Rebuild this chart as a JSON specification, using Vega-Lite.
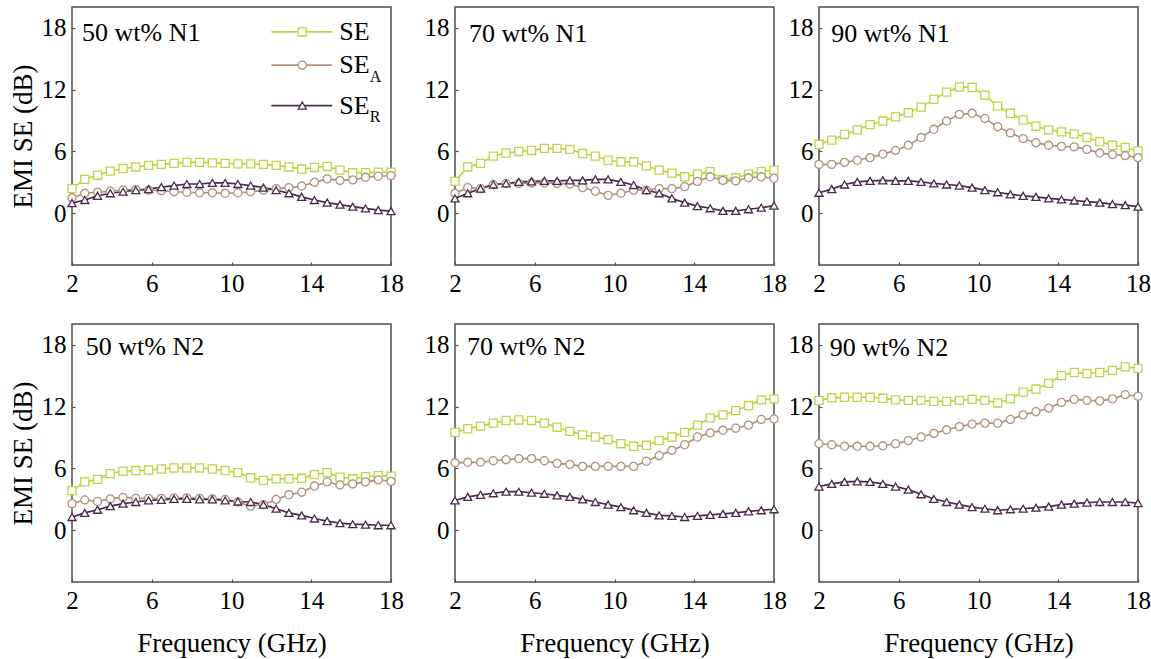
{
"$schema": "https://vega.github.io/schema/vega-lite/v6.json",
"padding": {"left": 8, "top": 6, "right": 2, "bottom": 2},
"config": {
  "view": {"stroke": "#4d4d4d", "strokeWidth": 1.5},
  "axis": {"labelFont": "Liberation Serif", "labelFontSize": 25, "labelColor": "black", "titleFont": "Liberation Serif", "titleFontSize": 27, "titleFontWeight": "normal", "titleColor": "black", "domain": false, "grid": false, "tickColor": "#4d4d4d", "tickWidth": 1.2, "tickSize": -3, "labelFlush": false, "labelOverlap": false, "labelPadding": 9}
},
"datasets": {
  "lab": [{"p":1,"t":"50 wt% N1","lx":2.5,"ly":17.45},{"p":2,"t":"70 wt% N1","lx":2.7,"ly":17.4},{"p":3,"t":"90 wt% N1","lx":2.62,"ly":17.4},{"p":4,"t":"50 wt% N2","lx":2.69,"ly":17.8},{"p":5,"t":"70 wt% N2","lx":2.6,"ly":17.75},{"p":6,"t":"90 wt% N2","lx":2.54,"ly":17.7}],
  "d": [
{"p":1,"f":2,"SE":2.4,"SE_A":1.5,"SE_R":1.0},{"p":1,"f":2.64,"SE":3.3,"SE_A":1.95,"SE_R":1.3},{"p":1,"f":3.28,"SE":3.7,"SE_A":2.05,"SE_R":1.7},{"p":1,"f":3.92,"SE":4.1,"SE_A":2.15,"SE_R":1.95},{"p":1,"f":4.56,"SE":4.35,"SE_A":2.25,"SE_R":2.1},{"p":1,"f":5.2,"SE":4.5,"SE_A":2.3,"SE_R":2.25},{"p":1,"f":5.84,"SE":4.65,"SE_A":2.25,"SE_R":2.35},{"p":1,"f":6.48,"SE":4.75,"SE_A":2.2,"SE_R":2.55},{"p":1,"f":7.12,"SE":4.85,"SE_A":2.1,"SE_R":2.7},{"p":1,"f":7.76,"SE":4.95,"SE_A":2.05,"SE_R":2.85},{"p":1,"f":8.4,"SE":4.95,"SE_A":2.0,"SE_R":2.85},{"p":1,"f":9.04,"SE":4.9,"SE_A":2.0,"SE_R":2.95},{"p":1,"f":9.68,"SE":4.85,"SE_A":1.95,"SE_R":2.95},{"p":1,"f":10.32,"SE":4.8,"SE_A":2.0,"SE_R":2.85},{"p":1,"f":10.96,"SE":4.8,"SE_A":2.1,"SE_R":2.7},{"p":1,"f":11.6,"SE":4.75,"SE_A":2.25,"SE_R":2.5},{"p":1,"f":12.24,"SE":4.65,"SE_A":2.4,"SE_R":2.25},{"p":1,"f":12.88,"SE":4.5,"SE_A":2.5,"SE_R":1.95},{"p":1,"f":13.52,"SE":4.3,"SE_A":2.65,"SE_R":1.6},{"p":1,"f":14.16,"SE":4.45,"SE_A":3.0,"SE_R":1.3},{"p":1,"f":14.8,"SE":4.55,"SE_A":3.35,"SE_R":1.05},{"p":1,"f":15.44,"SE":4.2,"SE_A":3.2,"SE_R":0.85},{"p":1,"f":16.08,"SE":3.95,"SE_A":3.25,"SE_R":0.65},{"p":1,"f":16.72,"SE":3.95,"SE_A":3.5,"SE_R":0.48},{"p":1,"f":17.36,"SE":4.0,"SE_A":3.6,"SE_R":0.32},{"p":1,"f":18,"SE":4.0,"SE_A":3.65,"SE_R":0.22},
{"p":2,"f":2,"SE":3.1,"SE_A":1.95,"SE_R":1.45},{"p":2,"f":2.64,"SE":4.5,"SE_A":2.5,"SE_R":1.95},{"p":2,"f":3.28,"SE":4.85,"SE_A":2.4,"SE_R":2.4},{"p":2,"f":3.92,"SE":5.55,"SE_A":2.8,"SE_R":2.8},{"p":2,"f":4.56,"SE":5.85,"SE_A":2.9,"SE_R":2.9},{"p":2,"f":5.2,"SE":6.0,"SE_A":2.9,"SE_R":3.05},{"p":2,"f":5.84,"SE":6.1,"SE_A":2.95,"SE_R":3.1},{"p":2,"f":6.48,"SE":6.3,"SE_A":2.95,"SE_R":3.15},{"p":2,"f":7.12,"SE":6.3,"SE_A":2.9,"SE_R":3.15},{"p":2,"f":7.76,"SE":6.2,"SE_A":2.85,"SE_R":3.2},{"p":2,"f":8.4,"SE":5.8,"SE_A":2.5,"SE_R":3.2},{"p":2,"f":9.04,"SE":5.55,"SE_A":2.15,"SE_R":3.3},{"p":2,"f":9.68,"SE":5.15,"SE_A":1.75,"SE_R":3.3},{"p":2,"f":10.32,"SE":5.0,"SE_A":1.95,"SE_R":3.05},{"p":2,"f":10.96,"SE":5.0,"SE_A":2.25,"SE_R":2.75},{"p":2,"f":11.6,"SE":4.6,"SE_A":2.25,"SE_R":2.25},{"p":2,"f":12.24,"SE":4.2,"SE_A":2.4,"SE_R":1.95},{"p":2,"f":12.88,"SE":3.9,"SE_A":2.4,"SE_R":1.45},{"p":2,"f":13.52,"SE":3.55,"SE_A":2.6,"SE_R":1.05},{"p":2,"f":14.16,"SE":3.8,"SE_A":3.1,"SE_R":0.7},{"p":2,"f":14.8,"SE":4.05,"SE_A":3.55,"SE_R":0.5},{"p":2,"f":15.44,"SE":3.3,"SE_A":3.2,"SE_R":0.25},{"p":2,"f":16.08,"SE":3.45,"SE_A":3.15,"SE_R":0.25},{"p":2,"f":16.72,"SE":3.8,"SE_A":3.45,"SE_R":0.4},{"p":2,"f":17.36,"SE":4.05,"SE_A":3.55,"SE_R":0.55},{"p":2,"f":18,"SE":4.2,"SE_A":3.4,"SE_R":0.75},
{"p":3,"f":2,"SE":6.7,"SE_A":4.75,"SE_R":2.0},{"p":3,"f":2.64,"SE":7.1,"SE_A":4.75,"SE_R":2.35},{"p":3,"f":3.28,"SE":7.65,"SE_A":4.95,"SE_R":2.8},{"p":3,"f":3.92,"SE":8.1,"SE_A":5.15,"SE_R":3.05},{"p":3,"f":4.56,"SE":8.6,"SE_A":5.4,"SE_R":3.15},{"p":3,"f":5.2,"SE":8.95,"SE_A":5.75,"SE_R":3.2},{"p":3,"f":5.84,"SE":9.35,"SE_A":6.1,"SE_R":3.15},{"p":3,"f":6.48,"SE":9.75,"SE_A":6.6,"SE_R":3.15},{"p":3,"f":7.12,"SE":10.3,"SE_A":7.35,"SE_R":3.05},{"p":3,"f":7.76,"SE":11.05,"SE_A":8.15,"SE_R":2.9},{"p":3,"f":8.4,"SE":11.75,"SE_A":8.95,"SE_R":2.8},{"p":3,"f":9.04,"SE":12.25,"SE_A":9.6,"SE_R":2.7},{"p":3,"f":9.68,"SE":12.2,"SE_A":9.7,"SE_R":2.5},{"p":3,"f":10.32,"SE":11.45,"SE_A":9.2,"SE_R":2.25},{"p":3,"f":10.96,"SE":10.4,"SE_A":8.4,"SE_R":2.05},{"p":3,"f":11.6,"SE":9.7,"SE_A":7.8,"SE_R":1.85},{"p":3,"f":12.24,"SE":9.05,"SE_A":7.25,"SE_R":1.7},{"p":3,"f":12.88,"SE":8.45,"SE_A":6.85,"SE_R":1.6},{"p":3,"f":13.52,"SE":8.1,"SE_A":6.6,"SE_R":1.45},{"p":3,"f":14.16,"SE":7.9,"SE_A":6.5,"SE_R":1.35},{"p":3,"f":14.8,"SE":7.7,"SE_A":6.45,"SE_R":1.25},{"p":3,"f":15.44,"SE":7.35,"SE_A":6.2,"SE_R":1.15},{"p":3,"f":16.08,"SE":6.95,"SE_A":5.85,"SE_R":1.05},{"p":3,"f":16.72,"SE":6.6,"SE_A":5.7,"SE_R":0.9},{"p":3,"f":17.36,"SE":6.4,"SE_A":5.6,"SE_R":0.8},{"p":3,"f":18,"SE":6.05,"SE_A":5.4,"SE_R":0.65},
{"p":4,"f":2,"SE":3.85,"SE_A":2.6,"SE_R":1.3},{"p":4,"f":2.64,"SE":4.7,"SE_A":2.95,"SE_R":1.7},{"p":4,"f":3.28,"SE":4.95,"SE_A":2.8,"SE_R":2.0},{"p":4,"f":3.92,"SE":5.5,"SE_A":3.05,"SE_R":2.35},{"p":4,"f":4.56,"SE":5.75,"SE_A":3.2,"SE_R":2.6},{"p":4,"f":5.2,"SE":5.8,"SE_A":3.1,"SE_R":2.75},{"p":4,"f":5.84,"SE":5.85,"SE_A":3.1,"SE_R":2.9},{"p":4,"f":6.48,"SE":5.95,"SE_A":3.1,"SE_R":2.95},{"p":4,"f":7.12,"SE":6.05,"SE_A":3.15,"SE_R":3.05},{"p":4,"f":7.76,"SE":6.05,"SE_A":3.15,"SE_R":3.05},{"p":4,"f":8.4,"SE":6.05,"SE_A":3.1,"SE_R":3.0},{"p":4,"f":9.04,"SE":5.95,"SE_A":3.05,"SE_R":3.0},{"p":4,"f":9.68,"SE":5.8,"SE_A":3.0,"SE_R":2.9},{"p":4,"f":10.32,"SE":5.6,"SE_A":2.75,"SE_R":2.8},{"p":4,"f":10.96,"SE":5.1,"SE_A":2.35,"SE_R":2.75},{"p":4,"f":11.6,"SE":4.85,"SE_A":2.5,"SE_R":2.5},{"p":4,"f":12.24,"SE":5.0,"SE_A":3.0,"SE_R":2.1},{"p":4,"f":12.88,"SE":5.0,"SE_A":3.45,"SE_R":1.7},{"p":4,"f":13.52,"SE":5.05,"SE_A":3.7,"SE_R":1.45},{"p":4,"f":14.16,"SE":5.4,"SE_A":4.3,"SE_R":1.15},{"p":4,"f":14.8,"SE":5.6,"SE_A":4.7,"SE_R":0.9},{"p":4,"f":15.44,"SE":5.15,"SE_A":4.4,"SE_R":0.7},{"p":4,"f":16.08,"SE":5.0,"SE_A":4.5,"SE_R":0.6},{"p":4,"f":16.72,"SE":5.2,"SE_A":4.7,"SE_R":0.55},{"p":4,"f":17.36,"SE":5.3,"SE_A":4.9,"SE_R":0.5},{"p":4,"f":18,"SE":5.25,"SE_A":4.75,"SE_R":0.5},
{"p":5,"f":2,"SE":9.5,"SE_A":6.55,"SE_R":2.9},{"p":5,"f":2.64,"SE":9.85,"SE_A":6.6,"SE_R":3.25},{"p":5,"f":3.28,"SE":10.1,"SE_A":6.6,"SE_R":3.45},{"p":5,"f":3.92,"SE":10.4,"SE_A":6.75,"SE_R":3.6},{"p":5,"f":4.56,"SE":10.65,"SE_A":6.85,"SE_R":3.75},{"p":5,"f":5.2,"SE":10.7,"SE_A":6.95,"SE_R":3.75},{"p":5,"f":5.84,"SE":10.65,"SE_A":6.95,"SE_R":3.65},{"p":5,"f":6.48,"SE":10.4,"SE_A":6.75,"SE_R":3.55},{"p":5,"f":7.12,"SE":10.0,"SE_A":6.5,"SE_R":3.4},{"p":5,"f":7.76,"SE":9.6,"SE_A":6.4,"SE_R":3.25},{"p":5,"f":8.4,"SE":9.25,"SE_A":6.2,"SE_R":3.0},{"p":5,"f":9.04,"SE":9.05,"SE_A":6.2,"SE_R":2.75},{"p":5,"f":9.68,"SE":8.8,"SE_A":6.2,"SE_R":2.5},{"p":5,"f":10.32,"SE":8.4,"SE_A":6.2,"SE_R":2.25},{"p":5,"f":10.96,"SE":8.15,"SE_A":6.2,"SE_R":1.95},{"p":5,"f":11.6,"SE":8.25,"SE_A":6.7,"SE_R":1.7},{"p":5,"f":12.24,"SE":8.7,"SE_A":7.25,"SE_R":1.45},{"p":5,"f":12.88,"SE":9.05,"SE_A":7.75,"SE_R":1.4},{"p":5,"f":13.52,"SE":9.5,"SE_A":8.3,"SE_R":1.3},{"p":5,"f":14.16,"SE":10.2,"SE_A":9.05,"SE_R":1.4},{"p":5,"f":14.8,"SE":10.9,"SE_A":9.45,"SE_R":1.5},{"p":5,"f":15.44,"SE":11.2,"SE_A":9.7,"SE_R":1.6},{"p":5,"f":16.08,"SE":11.6,"SE_A":9.9,"SE_R":1.7},{"p":5,"f":16.72,"SE":12.1,"SE_A":10.2,"SE_R":1.85},{"p":5,"f":17.36,"SE":12.65,"SE_A":10.75,"SE_R":1.95},{"p":5,"f":18,"SE":12.75,"SE_A":10.8,"SE_R":2.05},
{"p":6,"f":2,"SE":12.6,"SE_A":8.4,"SE_R":4.25},{"p":6,"f":2.64,"SE":12.85,"SE_A":8.3,"SE_R":4.5},{"p":6,"f":3.28,"SE":12.9,"SE_A":8.15,"SE_R":4.7},{"p":6,"f":3.92,"SE":12.9,"SE_A":8.15,"SE_R":4.75},{"p":6,"f":4.56,"SE":12.9,"SE_A":8.15,"SE_R":4.7},{"p":6,"f":5.2,"SE":12.8,"SE_A":8.2,"SE_R":4.5},{"p":6,"f":5.84,"SE":12.65,"SE_A":8.4,"SE_R":4.25},{"p":6,"f":6.48,"SE":12.6,"SE_A":8.7,"SE_R":3.95},{"p":6,"f":7.12,"SE":12.6,"SE_A":9.05,"SE_R":3.5},{"p":6,"f":7.76,"SE":12.5,"SE_A":9.4,"SE_R":3.05},{"p":6,"f":8.4,"SE":12.5,"SE_A":9.75,"SE_R":2.75},{"p":6,"f":9.04,"SE":12.6,"SE_A":10.05,"SE_R":2.5},{"p":6,"f":9.68,"SE":12.7,"SE_A":10.3,"SE_R":2.25},{"p":6,"f":10.32,"SE":12.6,"SE_A":10.4,"SE_R":2.1},{"p":6,"f":10.96,"SE":12.35,"SE_A":10.4,"SE_R":1.95},{"p":6,"f":11.6,"SE":12.75,"SE_A":10.75,"SE_R":2.05},{"p":6,"f":12.24,"SE":13.4,"SE_A":11.2,"SE_R":2.1},{"p":6,"f":12.88,"SE":13.7,"SE_A":11.5,"SE_R":2.2},{"p":6,"f":13.52,"SE":14.25,"SE_A":11.85,"SE_R":2.3},{"p":6,"f":14.16,"SE":15.0,"SE_A":12.4,"SE_R":2.5},{"p":6,"f":14.8,"SE":15.3,"SE_A":12.7,"SE_R":2.6},{"p":6,"f":15.44,"SE":15.2,"SE_A":12.6,"SE_R":2.7},{"p":6,"f":16.08,"SE":15.3,"SE_A":12.55,"SE_R":2.75},{"p":6,"f":16.72,"SE":15.5,"SE_A":12.75,"SE_R":2.75},{"p":6,"f":17.36,"SE":15.85,"SE_A":13.15,"SE_R":2.75},{"p":6,"f":18,"SE":15.7,"SE_A":13.0,"SE_R":2.65}
  ]
},
"spacing": 18,
"hconcat": [
 {"spacing": 26, "vconcat": [
  {"width": 319, "height": 258, "layer": [
   {"data": {"name": "d"}, "transform": [{"filter": "datum.p == 1"}, {"fold": ["SE", "SE_A", "SE_R"], "as": ["s", "v"]}],
    "layer": [
     {"mark": {"type": "line", "strokeWidth": 1.7}, "encoding": {
       "x": {"field": "f", "type": "quantitative", "scale": {"domain": [2, 18], "nice": false, "zero": false}, "axis": {"title": null, "values": [2,4,6,8,10,12,14,16,18], "labelExpr": "datum.value % 4 == 2 ? datum.label : ''"}},
       "y": {"field": "v", "type": "quantitative", "scale": {"domain": [-5, 20], "nice": false, "zero": false}, "axis": {"title": "EMI SE (dB)", "titlePadding": 4, "values": [0, 6, 12, 18]}},
       "color": {"field": "s", "type": "nominal", "scale": {"domain": ["SE", "SE_A", "SE_R"], "range": ["#bcd548", "#b39080", "#4b2a4b"]}, "legend": null}}},
     {"mark": {"type": "point", "filled": true, "fill": "white", "size": 65, "strokeWidth": 1.3, "opacity": 1}, "encoding": {
       "x": {"field": "f", "type": "quantitative"}, "y": {"field": "v", "type": "quantitative"},
       "stroke": {"field": "s", "type": "nominal", "scale": {"domain": ["SE", "SE_A", "SE_R"], "range": ["#bcd548", "#b39080", "#4b2a4b"]}, "legend": null},
       "shape": {"field": "s", "type": "nominal", "scale": {"domain": ["SE", "SE_A", "SE_R"], "range": ["square", "circle", "triangle-up"]}, "legend": null}}}
    ]},
   {"data": {"name": "lab"}, "transform": [{"filter": "datum.p == 1"}], "mark": {"type": "text", "align": "left", "baseline": "middle", "font": "Liberation Serif", "fontSize": 26, "color": "black"}, "encoding": {"x": {"field": "lx", "type": "quantitative"}, "y": {"field": "ly", "type": "quantitative"}, "text": {"field": "t"}}},
   {"data": {"values": [{}]}, "mark": {"type": "rule", "color": "#bcd548", "strokeWidth": 1.7}, "encoding": {"x": {"datum": 12.0}, "x2": {"datum": 15.05}, "y": {"datum": 17.58}}},
   {"data": {"values": [{}]}, "mark": {"type": "rule", "color": "#b39080", "strokeWidth": 1.7}, "encoding": {"x": {"datum": 12.0}, "x2": {"datum": 15.05}, "y": {"datum": 14.36}}},
   {"data": {"values": [{}]}, "mark": {"type": "rule", "color": "#4b2a4b", "strokeWidth": 1.7}, "encoding": {"x": {"datum": 12.0}, "x2": {"datum": 15.05}, "y": {"datum": 10.45}}},
   {"data": {"values": [{}]}, "mark": {"type": "point", "shape": "square", "filled": true, "fill": "white", "stroke": "#bcd548", "size": 65, "strokeWidth": 1.3, "opacity": 1}, "encoding": {"x": {"datum": 13.55}, "y": {"datum": 17.58}}},
   {"data": {"values": [{}]}, "mark": {"type": "point", "shape": "circle", "filled": true, "fill": "white", "stroke": "#b39080", "size": 65, "strokeWidth": 1.3, "opacity": 1}, "encoding": {"x": {"datum": 13.55}, "y": {"datum": 14.36}}},
   {"data": {"values": [{}]}, "mark": {"type": "point", "shape": "triangle-up", "filled": true, "fill": "white", "stroke": "#4b2a4b", "size": 65, "strokeWidth": 1.3, "opacity": 1}, "encoding": {"x": {"datum": 13.55}, "y": {"datum": 10.45}}},
   {"data": {"values": [{}]}, "mark": {"type": "text", "align": "left", "baseline": "middle", "font": "Liberation Serif", "fontSize": 26, "color": "black"}, "encoding": {"x": {"datum": 15.41}, "y": {"datum": 17.58}, "text": {"value": "SE"}}},
   {"data": {"values": [{}]}, "mark": {"type": "text", "align": "left", "baseline": "middle", "font": "Liberation Serif", "fontSize": 26, "color": "black"}, "encoding": {"x": {"datum": 15.41}, "y": {"datum": 14.36}, "text": {"value": "SE"}}},
   {"data": {"values": [{}]}, "mark": {"type": "text", "align": "left", "baseline": "middle", "font": "Liberation Serif", "fontSize": 26, "color": "black"}, "encoding": {"x": {"datum": 15.41}, "y": {"datum": 10.45}, "text": {"value": "SE"}}},
   {"data": {"values": [{}]}, "mark": {"type": "text", "align": "left", "baseline": "middle", "font": "Liberation Serif", "fontSize": 16, "color": "black", "dy": 12}, "encoding": {"x": {"datum": 16.93}, "y": {"datum": 14.36}, "text": {"value": "A"}}},
   {"data": {"values": [{}]}, "mark": {"type": "text", "align": "left", "baseline": "middle", "font": "Liberation Serif", "fontSize": 16, "color": "black", "dy": 11}, "encoding": {"x": {"datum": 16.93}, "y": {"datum": 10.45}, "text": {"value": "R"}}}
  ]},
  {"width": 319, "height": 258, "layer": [
   {"data": {"name": "d"}, "transform": [{"filter": "datum.p == 4"}, {"fold": ["SE", "SE_A", "SE_R"], "as": ["s", "v"]}],
    "layer": [
     {"mark": {"type": "line", "strokeWidth": 1.7}, "encoding": {
       "x": {"field": "f", "type": "quantitative", "scale": {"domain": [2, 18], "nice": false, "zero": false}, "axis": {"title": "Frequency (GHz)", "titlePadding": 17, "values": [2,4,6,8,10,12,14,16,18], "labelExpr": "datum.value % 4 == 2 ? datum.label : ''"}},
       "y": {"field": "v", "type": "quantitative", "scale": {"domain": [-5, 20], "nice": false, "zero": false}, "axis": {"title": "EMI SE (dB)", "titlePadding": 4, "values": [0, 6, 12, 18]}},
       "color": {"field": "s", "type": "nominal", "scale": {"domain": ["SE", "SE_A", "SE_R"], "range": ["#bcd548", "#b39080", "#4b2a4b"]}, "legend": null}}},
     {"mark": {"type": "point", "filled": true, "fill": "white", "size": 65, "strokeWidth": 1.3, "opacity": 1}, "encoding": {
       "x": {"field": "f", "type": "quantitative"}, "y": {"field": "v", "type": "quantitative"},
       "stroke": {"field": "s", "type": "nominal", "scale": {"domain": ["SE", "SE_A", "SE_R"], "range": ["#bcd548", "#b39080", "#4b2a4b"]}, "legend": null},
       "shape": {"field": "s", "type": "nominal", "scale": {"domain": ["SE", "SE_A", "SE_R"], "range": ["square", "circle", "triangle-up"]}, "legend": null}}}
    ]},
   {"data": {"name": "lab"}, "transform": [{"filter": "datum.p == 4"}], "mark": {"type": "text", "align": "left", "baseline": "middle", "font": "Liberation Serif", "fontSize": 26, "color": "black"}, "encoding": {"x": {"field": "lx", "type": "quantitative"}, "y": {"field": "ly", "type": "quantitative"}, "text": {"field": "t"}}}
  ]}
 ]},
 {"spacing": -1, "hconcat": [
  {"spacing": 26, "vconcat": [
   {"width": 319, "height": 258, "layer": [
    {"data": {"name": "d"}, "transform": [{"filter": "datum.p == 2"}, {"fold": ["SE", "SE_A", "SE_R"], "as": ["s", "v"]}],
     "layer": [
      {"mark": {"type": "line", "strokeWidth": 1.7}, "encoding": {
        "x": {"field": "f", "type": "quantitative", "scale": {"domain": [2, 18], "nice": false, "zero": false}, "axis": {"title": null, "values": [2,4,6,8,10,12,14,16,18], "labelExpr": "datum.value % 4 == 2 ? datum.label : ''"}},
        "y": {"field": "v", "type": "quantitative", "scale": {"domain": [-5, 20], "nice": false, "zero": false}, "axis": {"title": null, "values": [0, 6, 12, 18]}},
        "color": {"field": "s", "type": "nominal", "scale": {"domain": ["SE", "SE_A", "SE_R"], "range": ["#bcd548", "#b39080", "#4b2a4b"]}, "legend": null}}},
      {"mark": {"type": "point", "filled": true, "fill": "white", "size": 65, "strokeWidth": 1.3, "opacity": 1}, "encoding": {
        "x": {"field": "f", "type": "quantitative"}, "y": {"field": "v", "type": "quantitative"},
        "stroke": {"field": "s", "type": "nominal", "scale": {"domain": ["SE", "SE_A", "SE_R"], "range": ["#bcd548", "#b39080", "#4b2a4b"]}, "legend": null},
        "shape": {"field": "s", "type": "nominal", "scale": {"domain": ["SE", "SE_A", "SE_R"], "range": ["square", "circle", "triangle-up"]}, "legend": null}}}
     ]},
    {"data": {"name": "lab"}, "transform": [{"filter": "datum.p == 2"}], "mark": {"type": "text", "align": "left", "baseline": "middle", "font": "Liberation Serif", "fontSize": 26, "color": "black"}, "encoding": {"x": {"field": "lx", "type": "quantitative"}, "y": {"field": "ly", "type": "quantitative"}, "text": {"field": "t"}}}
   ]},
   {"width": 319, "height": 258, "layer": [
    {"data": {"name": "d"}, "transform": [{"filter": "datum.p == 5"}, {"fold": ["SE", "SE_A", "SE_R"], "as": ["s", "v"]}],
     "layer": [
      {"mark": {"type": "line", "strokeWidth": 1.7}, "encoding": {
        "x": {"field": "f", "type": "quantitative", "scale": {"domain": [2, 18], "nice": false, "zero": false}, "axis": {"title": "Frequency (GHz)", "titlePadding": 17, "values": [2,4,6,8,10,12,14,16,18], "labelExpr": "datum.value % 4 == 2 ? datum.label : ''"}},
        "y": {"field": "v", "type": "quantitative", "scale": {"domain": [-5, 20], "nice": false, "zero": false}, "axis": {"title": null, "values": [0, 6, 12, 18]}},
        "color": {"field": "s", "type": "nominal", "scale": {"domain": ["SE", "SE_A", "SE_R"], "range": ["#bcd548", "#b39080", "#4b2a4b"]}, "legend": null}}},
      {"mark": {"type": "point", "filled": true, "fill": "white", "size": 65, "strokeWidth": 1.3, "opacity": 1}, "encoding": {
        "x": {"field": "f", "type": "quantitative"}, "y": {"field": "v", "type": "quantitative"},
        "stroke": {"field": "s", "type": "nominal", "scale": {"domain": ["SE", "SE_A", "SE_R"], "range": ["#bcd548", "#b39080", "#4b2a4b"]}, "legend": null},
        "shape": {"field": "s", "type": "nominal", "scale": {"domain": ["SE", "SE_A", "SE_R"], "range": ["square", "circle", "triangle-up"]}, "legend": null}}}
     ]},
    {"data": {"name": "lab"}, "transform": [{"filter": "datum.p == 5"}], "mark": {"type": "text", "align": "left", "baseline": "middle", "font": "Liberation Serif", "fontSize": 26, "color": "black"}, "encoding": {"x": {"field": "lx", "type": "quantitative"}, "y": {"field": "ly", "type": "quantitative"}, "text": {"field": "t"}}}
   ]}
  ]},
  {"spacing": 26, "vconcat": [
   {"width": 319, "height": 258, "layer": [
    {"data": {"name": "d"}, "transform": [{"filter": "datum.p == 3"}, {"fold": ["SE", "SE_A", "SE_R"], "as": ["s", "v"]}],
     "layer": [
      {"mark": {"type": "line", "strokeWidth": 1.7}, "encoding": {
        "x": {"field": "f", "type": "quantitative", "scale": {"domain": [2, 18], "nice": false, "zero": false}, "axis": {"title": null, "values": [2,4,6,8,10,12,14,16,18], "labelExpr": "datum.value % 4 == 2 ? datum.label : ''"}},
        "y": {"field": "v", "type": "quantitative", "scale": {"domain": [-5, 20], "nice": false, "zero": false}, "axis": {"title": null, "values": [0, 6, 12, 18]}},
        "color": {"field": "s", "type": "nominal", "scale": {"domain": ["SE", "SE_A", "SE_R"], "range": ["#bcd548", "#b39080", "#4b2a4b"]}, "legend": null}}},
      {"mark": {"type": "point", "filled": true, "fill": "white", "size": 65, "strokeWidth": 1.3, "opacity": 1}, "encoding": {
        "x": {"field": "f", "type": "quantitative"}, "y": {"field": "v", "type": "quantitative"},
        "stroke": {"field": "s", "type": "nominal", "scale": {"domain": ["SE", "SE_A", "SE_R"], "range": ["#bcd548", "#b39080", "#4b2a4b"]}, "legend": null},
        "shape": {"field": "s", "type": "nominal", "scale": {"domain": ["SE", "SE_A", "SE_R"], "range": ["square", "circle", "triangle-up"]}, "legend": null}}}
     ]},
    {"data": {"name": "lab"}, "transform": [{"filter": "datum.p == 3"}], "mark": {"type": "text", "align": "left", "baseline": "middle", "font": "Liberation Serif", "fontSize": 26, "color": "black"}, "encoding": {"x": {"field": "lx", "type": "quantitative"}, "y": {"field": "ly", "type": "quantitative"}, "text": {"field": "t"}}}
   ]},
   {"width": 319, "height": 258, "layer": [
    {"data": {"name": "d"}, "transform": [{"filter": "datum.p == 6"}, {"fold": ["SE", "SE_A", "SE_R"], "as": ["s", "v"]}],
     "layer": [
      {"mark": {"type": "line", "strokeWidth": 1.7}, "encoding": {
        "x": {"field": "f", "type": "quantitative", "scale": {"domain": [2, 18], "nice": false, "zero": false}, "axis": {"title": "Frequency (GHz)", "titlePadding": 17, "values": [2,4,6,8,10,12,14,16,18], "labelExpr": "datum.value % 4 == 2 ? datum.label : ''"}},
        "y": {"field": "v", "type": "quantitative", "scale": {"domain": [-5, 20], "nice": false, "zero": false}, "axis": {"title": null, "values": [0, 6, 12, 18]}},
        "color": {"field": "s", "type": "nominal", "scale": {"domain": ["SE", "SE_A", "SE_R"], "range": ["#bcd548", "#b39080", "#4b2a4b"]}, "legend": null}}},
      {"mark": {"type": "point", "filled": true, "fill": "white", "size": 65, "strokeWidth": 1.3, "opacity": 1}, "encoding": {
        "x": {"field": "f", "type": "quantitative"}, "y": {"field": "v", "type": "quantitative"},
        "stroke": {"field": "s", "type": "nominal", "scale": {"domain": ["SE", "SE_A", "SE_R"], "range": ["#bcd548", "#b39080", "#4b2a4b"]}, "legend": null},
        "shape": {"field": "s", "type": "nominal", "scale": {"domain": ["SE", "SE_A", "SE_R"], "range": ["square", "circle", "triangle-up"]}, "legend": null}}}
     ]},
    {"data": {"name": "lab"}, "transform": [{"filter": "datum.p == 6"}], "mark": {"type": "text", "align": "left", "baseline": "middle", "font": "Liberation Serif", "fontSize": 26, "color": "black"}, "encoding": {"x": {"field": "lx", "type": "quantitative"}, "y": {"field": "ly", "type": "quantitative"}, "text": {"field": "t"}}}
   ]}
  ]}
 ]}
]
}
